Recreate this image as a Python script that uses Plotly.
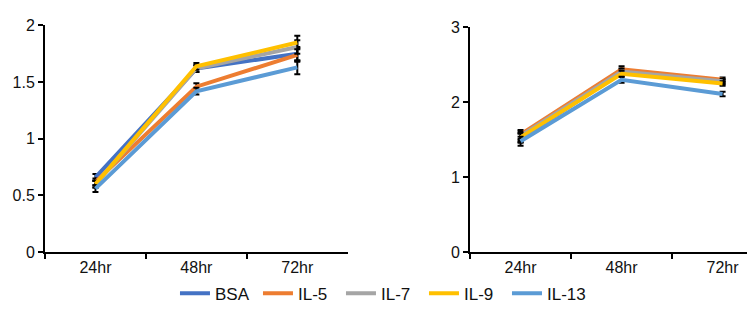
import plotly.graph_objects as go

categories = ["24hr", "48hr", "72hr"]
series_names = ["BSA", "IL-5", "IL-7", "IL-9", "IL-13"]
colors = ["#4472C4", "#ED7D31", "#A5A5A5", "#FFC000", "#5B9BD5"]

left_bsa = [0.66, 1.62, 1.75]
left_il5 = [0.62, 1.46, 1.74]
left_il7 = [0.60, 1.62, 1.81]
left_il9 = [0.60, 1.64, 1.85]
left_il13 = [0.56, 1.42, 1.63]
left_err = [0.03, 0.03, 0.06]

right_bsa = [1.52, 2.40, 2.27]
right_il5 = [1.57, 2.44, 2.30]
right_il7 = [1.55, 2.41, 2.28]
right_il9 = [1.53, 2.38, 2.25]
right_il13 = [1.48, 2.30, 2.11]
right_err = [0.06, 0.04, 0.03]

left_vals = [left_bsa, left_il5, left_il7, left_il9, left_il13]
right_vals = [right_bsa, right_il5, right_il7, right_il9, right_il13]

fig = go.Figure()
for name, col, lv, rv in zip(series_names, colors, left_vals, right_vals):
    fig.add_trace(go.Scatter(
        x=categories, y=lv, name=name, mode="lines",
        line=dict(color=col, width=4),
        error_y=dict(type="data", array=left_err, color="black", thickness=2, width=3),
        xaxis="x", yaxis="y", legendgroup=name))
    fig.add_trace(go.Scatter(
        x=categories, y=rv, name=name, mode="lines",
        line=dict(color=col, width=4),
        error_y=dict(type="data", array=right_err, color="black", thickness=2, width=3),
        xaxis="x2", yaxis="y2", legendgroup=name, showlegend=False))

axis_common = dict(showgrid=False, zeroline=False, showline=True, linecolor="black",
                   linewidth=2, ticks="outside", tickcolor="black", tickwidth=2, ticklen=5,
                   tickfont=dict(family="Liberation Sans, Arial", size=16, color="#111"))

fig.update_layout(
    width=755, height=329,
    margin=dict(l=0, r=0, t=0, b=0),
    plot_bgcolor="white", paper_bgcolor="white",
    showlegend=True,
    legend=dict(orientation="h", x=0.496, xanchor="center", y=0.11, yanchor="middle",
                font=dict(family="Liberation Sans, Arial", size=17, color="#111"),
                itemwidth=30, tracegroupgap=0, entrywidth=38),
    xaxis=dict(domain=[0.049, 0.450], type="category", range=[-0.5, 2.5],
               tickson="boundaries", **axis_common),
    yaxis=dict(domain=[0.2432, 0.9696], range=[0, 2], tickvals=[0, 0.5, 1, 1.5, 2],
               ticktext=["0", "0.5", "1", "1.5", "2"], anchor="x", **axis_common),
    xaxis2=dict(domain=[0.612, 1.0], type="category", range=[-0.5, 2.40],
                tickson="boundaries", anchor="y2", **axis_common),
    yaxis2=dict(domain=[0.2432, 0.9635], range=[0, 3], tickvals=[0, 1, 2, 3],
                anchor="x2", **axis_common),
)

fig.write_html("out.html")
